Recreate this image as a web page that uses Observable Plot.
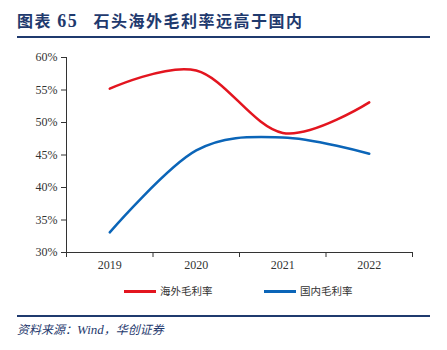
<!DOCTYPE html>
<html>
<head>
<meta charset="utf-8">
<script src="https://cdn.jsdelivr.net/npm/d3@7"></script>
<script src="https://cdn.jsdelivr.net/npm/@observablehq/plot@0.6"></script>
<style>
  html, body { margin: 0; padding: 0; background: #fff; }
  #wrap { position: relative; width: 447px; height: 350px; overflow: hidden; background: #fff; }
  #title { position: absolute; left: 17px; top: 8px; font-family: "Noto Sans CJK SC", sans-serif; font-weight: bold; font-size: 16px; color: #1F3A6E; letter-spacing: 1.5px; white-space: nowrap; }
  #title .num { font-family: "Liberation Serif", serif; font-size: 18px; }
  #hline { position: absolute; left: 17px; top: 36px; width: 413px; height: 2px; background: #1F3A6E; }
  #chart { position: absolute; left: 0; top: 0; }
  .leg { position: absolute; top: 283px; font-family: "Noto Sans CJK SC", sans-serif; font-size: 10.5px; color: #333; white-space: nowrap; }
  .leg .sw { display: inline-block; width: 32px; height: 3px; vertical-align: middle; margin-right: 4px; position: relative; top: -1px; }
  #fline { position: absolute; left: 17px; top: 315px; width: 413px; height: 1.5px; background: #1F3A6E; }
  #src { position: absolute; left: 17px; top: 320px; font-family: "Noto Sans CJK SC", "Liberation Serif", sans-serif; font-style: italic; font-size: 12px; color: #1F3A6E; white-space: nowrap; }
  #src .en { font-family: "Liberation Serif", serif; font-size: 13px; }
  #chart svg text { font-family: "Liberation Serif", serif; font-size: 12px; }
</style>
</head>
<body>
<div id="wrap">
  <div id="title">图表 <span class="num">65</span>&nbsp;&nbsp;&nbsp;石头海外毛利率远高于国内</div>
  <div id="hline"></div>
  <div id="chart"></div>
  <div id="leg"></div>
  <div id="fline"></div>
  <div id="src">资料来源：<span class="en">Wind</span>，华创证券</div>
</div>
<script>
const years = [2019, 2020, 2021, 2022];
const overseas = [0.552, 0.580, 0.484, 0.531];
const domestic = [0.331, 0.457, 0.477, 0.452];
const seriesNames = ["海外毛利率", "国内毛利率"];
const seriesColors = ["#E3151F", "#0B65B8"];
const yTicks = [0.30, 0.35, 0.40, 0.45, 0.50, 0.55, 0.60];

const boundaries = [years[0] - 0.5, ...years.map(y => y + 0.5)];
const rows = [];
years.forEach((yr, i) => {
  rows.push({year: yr, value: overseas[i], series: seriesNames[0]});
  rows.push({year: yr, value: domestic[i], series: seriesNames[1]});
});

const chart = Plot.plot({
  width: 447,
  height: 280,
  marginTop: 57,
  marginBottom: 28,
  marginLeft: 66,
  marginRight: 35,
  x: {type: "linear", domain: [boundaries[0], boundaries[boundaries.length - 1]]},
  y: {domain: [0.30, 0.60]},
  color: {domain: seriesNames, range: seriesColors},
  style: {fontFamily: "'Liberation Serif', serif", fontSize: "12px", color: "#333", background: "transparent"},
  marks: [
    Plot.axisY({ticks: yTicks, tickFormat: d3.format(".0%"), tickSize: 5, tickPadding: 4, label: null}),
    Plot.axisX({ticks: years, tickFormat: d => String(d), tickSize: 0, tickPadding: 8, label: null}),
    Plot.axisX({ticks: boundaries, tickFormat: () => "", tickSize: 5, label: null}),
    Plot.ruleX([boundaries[0]], {stroke: "#333"}),
    Plot.ruleY([0.30], {stroke: "#333"}),
    Plot.line(rows, {x: "year", y: "value", z: "series", stroke: "series", strokeWidth: 2.5, curve: "cardinal"})
  ]
});
document.getElementById("chart").appendChild(chart);

const leg = document.getElementById("leg");
const legLeft = [124, 264];
seriesNames.forEach((n, i) => {
  const d = document.createElement("div");
  d.className = "leg";
  d.style.left = legLeft[i] + "px";
  d.innerHTML = `<span class="sw" style="background:${seriesColors[i]}"></span>${n}`;
  leg.appendChild(d);
});
</script>
</body>
</html>
